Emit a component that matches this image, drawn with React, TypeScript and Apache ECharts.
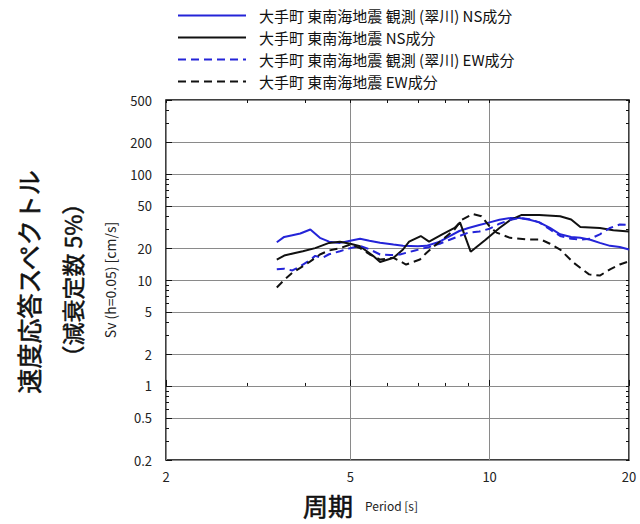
import React, { useEffect, useRef } from 'react';
import * as echarts from 'echarts';

// ---- data (period [s], Sv [cm/s]) ----
const obsNSPeriod = [3.47, 3.6, 3.75, 3.9, 4.1, 4.3, 4.5, 4.75, 5.0, 5.25, 5.5, 5.8, 6.2, 6.5, 7.0, 7.3, 7.8, 8.2, 8.6, 9.0, 9.5, 10.0, 10.5, 11.1, 11.6, 12.2, 12.8, 13.5, 14.2, 15.0, 15.7, 16.5, 17.3, 18.2, 19.1, 20];
const obsNSSv = [22.7, 25.5, 26.5, 27.5, 30, 25, 23, 22.4, 23.5, 24.5, 23.5, 22.5, 21.6, 21, 20.8, 21, 23, 26, 29, 31, 33, 35, 37, 38.5, 38.5, 37, 35, 31, 27, 25.5, 25, 24, 22.4, 21, 20.5, 19.4];

const simNSPeriod = [3.47, 3.6, 3.8, 3.95, 4.2, 4.5, 4.75, 5.0, 5.25, 5.6, 5.8, 6.2, 6.5, 6.7, 7.1, 7.4, 7.9, 8.4, 8.63, 9.1, 9.8, 10.5, 11.1, 11.7, 12.8, 14.2, 15.0, 15.7, 17.3, 18.5, 20];
const simNSSv = [15.6, 17, 18, 18.7, 20, 22.4, 23, 22, 20.8, 16.9, 14.8, 16.2, 19.4, 23, 26, 23, 26.9, 31, 35, 18.5, 24, 31, 37, 41, 41, 40, 37.2, 31.6, 31, 29.5, 28.7];

const obsEWPeriod = [3.47, 3.6, 3.75, 3.9, 4.1, 4.2, 4.35, 4.5, 4.75, 5.0, 5.25, 5.5, 5.8, 6.1, 6.4, 6.9, 7.4, 7.8, 8.2, 8.6, 9.0, 9.5, 10.0, 10.5, 11.1, 11.6, 12.2, 12.8, 13.5, 14.2, 15.0, 15.7, 16.5, 17.3, 18.2, 19.1, 20];
const obsEWSv = [12.6, 12.8, 12.3, 13.5, 15.5, 16.9, 16.2, 17.5, 18.7, 20, 21, 19.5, 17.4, 17.2, 17.4, 19, 20.5, 22, 24, 26, 28, 28.7, 30.5, 34, 37, 38.5, 37.5, 35, 30, 26, 24.5, 24.1, 24.5, 27, 31, 33.4, 33];

const simEWPeriod = [3.47, 3.6, 3.75, 3.9, 4.1, 4.3, 4.5, 4.75, 5.0, 5.25, 5.5, 5.8, 6.2, 6.6, 7.07, 7.3, 7.6, 8.0, 8.4, 8.7, 9.2, 9.6, 10.0, 10.35, 11.07, 12.2, 12.9, 13.5, 14.2, 15.2, 16.4, 17.3, 18.2, 19.1, 20];
const simEWSv = [8.5, 10, 11.7, 13, 15, 17.4, 19, 20, 21.6, 20, 17.5, 15.6, 16.2, 14, 15.6, 18, 21, 25, 30, 37, 42, 40, 32, 28, 25, 24.1, 24.1, 22, 19.4, 14.5, 11.3, 11, 12.6, 14, 15];

const seriesNames = [
  '大手町 東南海地震 観測 (翠川) NS成分',
  '大手町 東南海地震 NS成分',
  '大手町 東南海地震 観測 (翠川) EW成分',
  '大手町 東南海地震 EW成分',
];

// ---- axes ----
const xMin = 2;
const xMax = 20;
const yMin = 0.2;
const yMax = 500;
const xMajorTicks = [2, 5, 10, 20];
const xMinorTicks = [3, 4, 6, 7, 8, 9];
const yMajorTicks = [0.2, 0.5, 1, 2, 5, 10, 20, 50, 100, 200, 500];
const yMinorTicks = [0.3, 0.4, 0.6, 0.7, 0.8, 0.9, 3, 4, 6, 7, 8, 9, 30, 40, 60, 70, 80, 90, 300, 400];

const FONT = '"Noto Sans CJK JP", "Noto Sans", sans-serif';
const BLUE = '#2424d8';
const BLACK = '#111111';

const lg = (v: number) => Math.log10(v);
const fmt = (v: number) => String(parseFloat(Math.pow(10, v).toPrecision(2)));

function tickAxis(kind: 'x' | 'y', position: string, majors: number[], minors: number[], withLabels: boolean, len: number, withSplit: boolean) {
  const min = kind === 'x' ? lg(xMin) : lg(yMin);
  const max = kind === 'x' ? lg(xMax) : lg(yMax);
  return {
    type: 'value',
    position,
    min,
    max,
    axisLine: { show: false },
    axisTick: {
      show: true,
      inside: true,
      length: len,
      customValues: [...majors, ...minors].map(lg),
      lineStyle: { color: BLACK, width: 1 },
    },
    axisLabel: withLabels
      ? {
          show: true,
          customValues: majors.map(lg),
          formatter: (v: number) => fmt(v),
          color: '#222',
          fontSize: 13,
          fontFamily: FONT,
          margin: kind === 'x' ? 10 : 14,
        }
      : { show: false },
    splitLine: withSplit ? { show: true, lineStyle: { color: '#8a8a8a', width: 1 } } : { show: false },
  };
}

export default function App() {
  const ref = useRef<HTMLDivElement>(null);
  useEffect(() => {
    if (!ref.current) return;
    const chart = echarts.init(ref.current, undefined, { renderer: 'svg' });
    const mk = (p: number[], s: number[]) => p.map((t, i) => [t, s[i]]);
    const line = (name: string, data: number[][], color: string, dashed: boolean) => ({
      name,
      type: 'line',
      xAxisIndex: 0,
      yAxisIndex: 0,
      data,
      symbol: 'none',
      showSymbol: false,
      smooth: false,
      lineStyle: { color, width: 2, type: dashed ? [8, 5] : 'solid' },
      itemStyle: { color },
    });
    chart.setOption({
      animation: false,
      backgroundColor: '#ffffff',
      grid: {
        left: 166,
        right: 11,
        top: 100,
        bottom: 64,
        show: true,
        borderColor: '#000',
        borderWidth: 1.5,
        backgroundColor: 'transparent',
      },
      legend: {
        orient: 'vertical',
        left: 172,
        top: 3,
        padding: 5,
        itemWidth: 68,
        itemHeight: 14,
        itemGap: 7,
        data: seriesNames,
        itemStyle: { opacity: 0 },
        lineStyle: { opacity: 1, width: 2 },
        textStyle: { fontSize: 15, fontFamily: FONT, color: '#111', lineHeight: 15, padding: [0, 0, 0, 8] },
        selectedMode: false,
      },
      xAxis: [
        { type: 'log', logBase: 10, min: xMin, max: xMax, show: false },
        tickAxis('x', 'bottom', xMajorTicks, [], true, 6, true),
        tickAxis('x', 'bottom', [], xMinorTicks, false, 3, false),
        tickAxis('x', 'top', xMajorTicks, xMinorTicks, false, 3, false),
      ],
      yAxis: [
        { type: 'log', logBase: 10, min: yMin, max: yMax, show: false },
        tickAxis('y', 'left', yMajorTicks, [], true, 6, true),
        tickAxis('y', 'left', [], yMinorTicks, false, 3, false),
        tickAxis('y', 'right', yMajorTicks, yMinorTicks, false, 3, false),
      ],
      graphic: [
        {
          type: 'text',
          x: 28,
          y: 282,
          rotation: Math.PI / 2,
          style: { text: '速度応答スペクトル', fontSize: 25, fontFamily: FONT, fill: '#111', stroke: '#111', lineWidth: 0.6, align: 'center', verticalAlign: 'middle' },
        },
        {
          type: 'text',
          x: 72,
          y: 280,
          rotation: Math.PI / 2,
          style: { text: '（減衰定数 5%）', fontSize: 23, fontFamily: FONT, fill: '#111', stroke: '#111', lineWidth: 0.5, align: 'center', verticalAlign: 'middle' },
        },
        {
          type: 'text',
          x: 110,
          y: 280,
          rotation: Math.PI / 2,
          style: { text: 'Sv (h=0.05) [cm/s]', fontSize: 14, fontFamily: FONT, fill: '#222', align: 'center', verticalAlign: 'middle' },
        },
        {
          type: 'text',
          x: 328,
          y: 505,
          style: { text: '周期', fontSize: 25, fontFamily: FONT, fill: '#111', stroke: '#111', lineWidth: 0.6, align: 'center', verticalAlign: 'middle' },
        },
        {
          type: 'text',
          x: 365,
          y: 505,
          style: { text: 'Period [s]', fontSize: 12, fontFamily: FONT, fill: '#222', align: 'left', verticalAlign: 'middle' },
        },
      ],
      series: [
        line(seriesNames[0], mk(obsNSPeriod, obsNSSv), BLUE, false),
        line(seriesNames[1], mk(simNSPeriod, simNSSv), BLACK, false),
        line(seriesNames[2], mk(obsEWPeriod, obsEWSv), BLUE, true),
        line(seriesNames[3], mk(simEWPeriod, simEWSv), BLACK, true),
      ],
    });
    return () => chart.dispose();
  }, []);
  return <div ref={ref} style={{ position: 'fixed', left: 0, top: 0, width: 640, height: 524 }} />;
}
